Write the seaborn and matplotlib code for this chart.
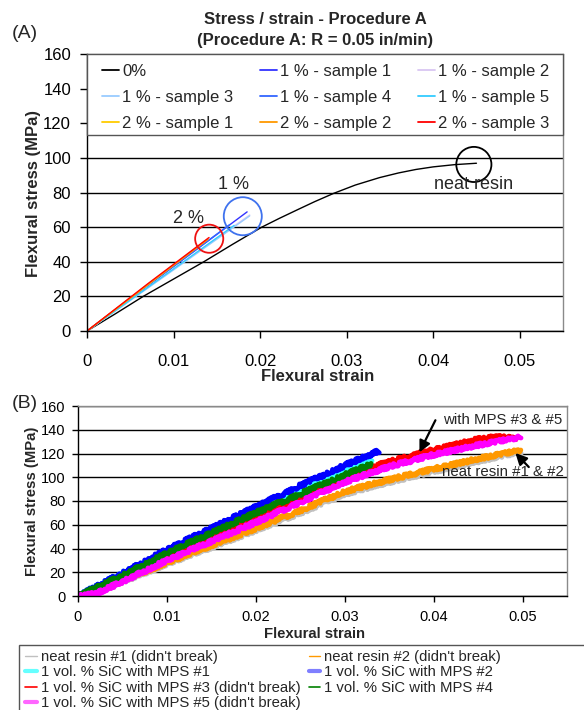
import matplotlib
matplotlib.use("Agg")
import matplotlib.pyplot as plt
import seaborn as sns
from matplotlib.lines import Line2D
from matplotlib.patches import Rectangle

sns.set_theme(style="white")
plt.rcParams['font.family'] = ['Liberation Sans', 'DejaVu Sans']

# ---------------- Panel A: stress / strain, procedure A ----------------
strain_0 = [0, 0.0033, 0.0065, 0.010, 0.0135, 0.0168, 0.0202, 0.0222, 0.0243, 0.0263,
            0.0285, 0.0310, 0.0338, 0.0360, 0.0380, 0.0400, 0.0425, 0.0450]
stress_0 = [0, 10, 20, 30, 40, 50, 60, 65, 70, 74.7,
            79.5, 84.3, 88.6, 91.3, 93.3, 94.8, 96.1, 96.9]

strain_1_s1 = [0, 0.0090, 0.0185]
stress_1_s1 = [0, 33.5, 68.8]
strain_1_s2 = [0, 0.0095, 0.0188]
stress_1_s2 = [0, 34.0, 67.0]
strain_1_s3 = [0, 0.0095, 0.0188]
stress_1_s3 = [0, 33.5, 66.5]
strain_1_s4 = [0, 0.0080, 0.0165]
stress_1_s4 = [0, 30.0, 61.5]
strain_1_s5 = [0, 0.0085, 0.0170]
stress_1_s5 = [0, 30.5, 61.0]
strain_2_s1 = [0, 0.0070, 0.0138]
stress_2_s1 = [0, 26.5, 52.5]
strain_2_s2 = [0, 0.0070, 0.0140]
stress_2_s2 = [0, 26.8, 53.0]
strain_2_s3 = [0, 0.0070, 0.0141]
stress_2_s3 = [0, 27.2, 54.0]

labels_a = ["0%", "1 % - sample 1", "1 % - sample 2",
            "1 % - sample 3", "1 % - sample 4", "1 % - sample 5",
            "2 % - sample 1", "2 % - sample 2", "2 % - sample 3"]
colors_a = ["black", "#3333ff", "#d9c6f2",
            "#99ccff", "#3366ff", "#33ccff",
            "#ffcc00", "#ff9900", "#ff0000"]
series_a = [(strain_0, stress_0), (strain_1_s1, stress_1_s1), (strain_1_s2, stress_1_s2),
            (strain_1_s3, stress_1_s3), (strain_1_s4, stress_1_s4), (strain_1_s5, stress_1_s5),
            (strain_2_s1, stress_2_s1), (strain_2_s2, stress_2_s2), (strain_2_s3, stress_2_s3)]

# failure points highlighted with circles (strain, stress)
circle_strain = [0.01412, 0.0180, 0.0447]
circle_stress = [53.3, 66.3, 96.2]
circle_colors = ["#ee1111", "#3f72ee", "black"]
circle_sizes = [410, 750, 640]

# ---------------- Panel B: flexural tests with MPS ----------------
strain_neat1 = [0, 0.001, 0.005, 0.010, 0.015, 0.020, 0.025, 0.030, 0.035, 0.040, 0.045, 0.0498]
stress_neat1 = [0, 0.5, 12, 27, 41, 55.5, 70, 86, 96, 105, 113.5, 121.5]
strain_neat2 = [0, 0.001, 0.005, 0.010, 0.015, 0.020, 0.025, 0.030, 0.035, 0.040, 0.045, 0.0498]
stress_neat2 = [0, 1.5, 13, 28, 42.5, 57, 72, 88, 98, 107, 115.5, 123]
strain_mps1 = [0, 0.005, 0.010, 0.015, 0.020, 0.025, 0.030, 0.0330]
stress_mps1 = [0, 19, 38, 56, 73, 90, 106, 115]
strain_mps2 = [0, 0.005, 0.010, 0.015, 0.020, 0.025, 0.030, 0.0338]
stress_mps2 = [0, 19, 39, 57, 75, 93, 110, 122]
strain_mps3 = [0, 0.002, 0.005, 0.010, 0.015, 0.020, 0.025, 0.030, 0.035, 0.040, 0.045, 0.047, 0.0495]
stress_mps3 = [0, 5, 14, 33, 49, 65, 83, 101, 113, 123, 132, 134, 133]
strain_mps4 = [0, 0.005, 0.010, 0.015, 0.020, 0.025, 0.030, 0.0330]
stress_mps4 = [0, 17, 36, 53, 70, 86, 102, 111]
strain_mps5 = [0, 0.002, 0.005, 0.010, 0.015, 0.020, 0.025, 0.030, 0.035, 0.040, 0.045, 0.0498]
stress_mps5 = [0, 2, 12, 30, 46, 62, 79, 96, 109, 119, 127, 134]

labels_b = ["neat resin #1 (didn't break)", "neat resin #2 (didn't break)",
            "1 vol. % SiC with MPS #1", "1 vol. % SiC with MPS #2",
            "1 vol. % SiC with MPS #3 (didn't break)", "1 vol. % SiC with MPS #4",
            "1 vol. % SiC with MPS #5 (didn't break)"]
colors_b = ["#c0c0c0", "#ff9900", "#33ffff", "#0000ff", "#ff0000", "#008000", "#ff00ff"]
legend_colors_b = ["#c0c0c0", "#ff9900", "#66ffff", "#7f7fff", "#ff0000", "#008000", "#ff66ff"]
legend_widths_b = [1.0, 1.0, 3.0, 3.0, 1.2, 1.2, 3.0]
series_b = [(strain_neat1, stress_neat1), (strain_neat2, stress_neat2),
            (strain_mps1, stress_mps1), (strain_mps2, stress_mps2),
            (strain_mps3, stress_mps3), (strain_mps4, stress_mps4),
            (strain_mps5, stress_mps5)]
draw_order_b = [0, 1, 2, 3, 4, 5, 6]

x_ticks = [0, 0.01, 0.02, 0.03, 0.04, 0.05]
x_tick_labels = ["0", "0.01", "0.02", "0.03", "0.04", "0.05"]
y_ticks = [0, 20, 40, 60, 80, 100, 120, 140, 160]

W, H = 584, 710
fig = plt.figure(figsize=(W / 100, H / 100), dpi=100)


def px_rect(left, top, right, bottom):
    return [left / W, 1 - bottom / H, (right - left) / W, (bottom - top) / H]


def style_axes(ax, labelsize, xpad, ypad, ticklen):
    ax.set_xlim(0, 0.055)
    ax.set_ylim(0, 160)
    ax.set_xticks(x_ticks)
    ax.set_xticklabels(x_tick_labels)
    ax.set_yticks(y_ticks)
    ax.set_yticklabels([str(v) for v in y_ticks])
    ax.yaxis.grid(True, color="black", lw=1)
    ax.xaxis.grid(False)
    ax.tick_params(axis="x", bottom=True, direction="out", length=ticklen, width=1,
                   color="black", labelsize=labelsize, pad=xpad, labelcolor="black")
    ax.tick_params(axis="y", left=True, direction="out", length=ticklen, width=1,
                   color="black", labelsize=labelsize, pad=ypad, labelcolor="black")
    for side in ("left", "bottom"):
        ax.spines[side].set_color("black")
        ax.spines[side].set_linewidth(1)
    for side in ("top", "right"):
        ax.spines[side].set_color("#8a8a8a")
        ax.spines[side].set_linewidth(1)
    ax.set_xlabel("")
    ax.set_ylabel("")


# ---------- Panel A ----------
axA = fig.add_axes(px_rect(87, 54, 563, 331))
for (sx, sy), c in zip(series_a, colors_a):
    sns.lineplot(x=sx, y=sy, color=c, lw=1.0, ax=axA, sort=False, estimator=None, zorder=2)
axA.scatter(circle_strain, circle_stress, s=circle_sizes, facecolors="none",
            edgecolors=circle_colors, linewidths=1.3, zorder=3)
style_axes(axA, 12, 11.5, 6.5, 5)
axA.text(0.0169, 84.6, "1 %", ha="center", va="center", fontsize=13, zorder=4)
axA.text(0.0117, 64.7, "2 %", ha="center", va="center", fontsize=13, zorder=4)
axA.text(0.0447, 84.6, "neat resin", ha="center", va="center", fontsize=13, zorder=4)

# legend box across the top of the plot
leg_bottom = (331 - 135) / 277
axA.add_patch(Rectangle((0, leg_bottom), 1, 1 - leg_bottom, transform=axA.transAxes,
                        facecolor="white", edgecolor="#555555", lw=1, zorder=4,
                        clip_on=False))
handles_a = [Line2D([], [], color=c, lw=1.3) for c in colors_a]
order_a = [0, 3, 6, 1, 4, 7, 2, 5, 8]  # row-major reading across three columns
legA = axA.legend([handles_a[i] for i in order_a], [labels_a[i] for i in order_a],
                  ncol=3, loc="upper left",
                  bbox_to_anchor=((102 - 87) / 476, 1 - (64 - 54) / 277),
                  frameon=False, fontsize=12, borderpad=0, borderaxespad=0,
                  handlelength=1.02, handletextpad=0.18, columnspacing=1.6,
                  labelspacing=0.66)
legA.set_zorder(5)

# ---------- Panel B ----------
axB = fig.add_axes(px_rect(78, 406, 567, 596))
for i in draw_order_b:
    sx, sy = series_b[i]
    sns.lineplot(x=sx, y=sy, color=colors_b[i], lw=3.5, ax=axB, sort=False,
                 estimator=None, zorder=2)
for line in axB.get_lines():
    line.set_sketch_params(scale=1.8, length=1.5, randomness=3)
style_axes(axB, 10.5, 6.0, 5, 4)

axB.annotate("", xy=(0.0384, 121), xytext=(0.0402, 148),
             arrowprops=dict(arrowstyle="-|>", color="black", lw=1.6, mutation_scale=17,
                             shrinkA=0, shrinkB=0), zorder=5)
axB.text(0.0411, 148, "with MPS #3 & #5", ha="left", va="center", fontsize=10.8, zorder=5)
axB.annotate("", xy=(0.0492, 120.4), xytext=(0.0507, 108.6),
             arrowprops=dict(arrowstyle="-|>", color="black", lw=1.6, mutation_scale=17,
                             shrinkA=0, shrinkB=0), zorder=5)
axB.text(0.0409, 104.4, "neat resin #1 & #2", ha="left", va="center", fontsize=10.8, zorder=5)

# legend below panel B (row-major order across two columns)
handles_b = [Line2D([], [], color=c, lw=w) for c, w in zip(legend_colors_b, legend_widths_b)]
order_b = [0, 2, 4, 6, 1, 3, 5]
fig.patches.append(Rectangle((19 / W, -0.02), 1.0, 1 - 645 / H + 0.02,
                             transform=fig.transFigure, facecolor="none",
                             edgecolor="#555555", lw=1))
fig.legend([handles_b[i] for i in order_b], [labels_b[i] for i in order_b], ncol=2,
           loc="upper left", bbox_to_anchor=(25 / W, 1 - 650 / H), frameon=False,
           fontsize=10.7, borderpad=0, borderaxespad=0, handlelength=0.8,
           handletextpad=0.27, columnspacing=0.54, labelspacing=0.1)

# ---------- titles and axis labels ----------
fig.text(315 / W, 1 - 20 / H, "Stress / strain - Procedure A", ha="center", va="center",
         fontsize=12, fontweight="bold")
fig.text(315 / W, 1 - 41 / H, "(Procedure A: R = 0.05 in/min)", ha="center", va="center",
         fontsize=12, fontweight="bold")
fig.text(25 / W, 1 - 33 / H, "(A)", ha="center", va="center", fontsize=14)
fig.text(25 / W, 1 - 403 / H, "(B)", ha="center", va="center", fontsize=14)
fig.text(318 / W, 1 - 377 / H, "Flexural strain", ha="center", va="center",
         fontsize=12, fontweight="bold")
fig.text(34 / W, 1 - 193 / H, "Flexural stress (MPa)", ha="center", va="center",
         rotation=90, fontsize=12, fontweight="bold")
fig.text(315 / W, 1 - 634 / H, "Flexural strain", ha="center", va="center",
         fontsize=10.7, fontweight="bold")
fig.text(32 / W, 1 - 501 / H, "Flexural stress (MPa)", ha="center", va="center",
         rotation=90, fontsize=10.7, fontweight="bold")

fig.savefig("out.png", dpi=100, facecolor="white")
